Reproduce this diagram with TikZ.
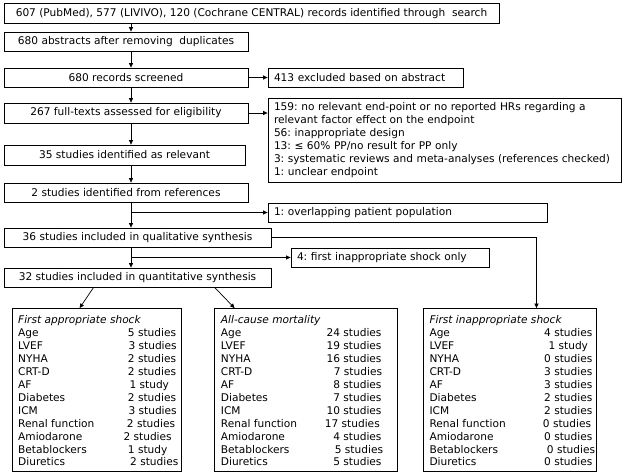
\documentclass[tikz,border=0pt]{standalone}
\usepackage{fontspec}
\setmainfont{DejaVu Sans}
\usetikzlibrary{arrows.meta}
\newcommand\myfs{\fontsize{10.6}{12.85}\selectfont\frenchspacing}
\begin{document}
\begin{tikzpicture}[x=1pt,y=-1pt,
  box/.style={draw, line width=0.8pt, inner xsep=0pt, inner ysep=0pt, font=\myfs},
  side/.style={box, align=left, inner xsep=6pt},
  arr/.style={line width=0.7pt, -{Triangle[length=4.5pt,width=4pt]}},
  txt/.style={inner sep=0pt, font=\myfs, anchor=base west},
  txte/.style={inner sep=0pt, font=\myfs, anchor=base east}]
\useasboundingbox (0,0) rectangle (625,475);
\fill[white] (0,0) rectangle (625,475);
% main column
\node[box, minimum width=495pt, minimum height=20pt] (b1) at (251.5,13.5) {607 (PubMed), 577 (LIVIVO), 120 (Cochrane CENTRAL) records identified through\ \ search};
\node[box, minimum width=244pt, minimum height=19pt] (b2) at (126,41.5) {680 abstracts after removing\ \ duplicates};
\node[box, minimum width=244pt, minimum height=19pt] (b3) at (126,77.5) {680 records screened};
\node[box, minimum width=244pt, minimum height=20pt] (b4) at (126,113) {267 full-texts assessed for eligibility};
\node[box, minimum width=241pt, minimum height=20pt] (b5) at (124.5,155) {35 studies identified as relevant};
\node[box, minimum width=244pt, minimum height=19pt] (b6) at (126,192.5) {2 studies identified from references};
\node[box, minimum width=267pt, minimum height=19pt] (b7) at (137.5,237.5) {36 studies included in qualitative synthesis};
\node[box, minimum width=267pt, minimum height=19pt] (b8) at (137.5,277.5) {32 studies included in quantitative synthesis};
% side boxes
\node[side, text width=183pt, minimum height=19pt] (e1) at (365.5,77.5) {413 excluded based on abstract};
\node[side, text width=341pt, minimum height=84pt] (e2) at (444.5,140) {159: no relevant end-point or no reported HRs regarding a\\relevant factor effect on the endpoint\\56: inappropriate design\\13: ≤ 60\% PP/no result for PP only\\3: systematic reviews and meta-analyses (references checked)\\1: unclear endpoint};
\node[side, text width=267pt, minimum height=19pt] (e3) at (407.5,212.5) {1: overlapping patient population};
\node[side, text width=186pt, minimum height=19pt] (e4) at (390,257.5) {4: first inappropriate shock only};
% table boxes
\node[box, minimum width=169pt, minimum height=162.5pt] (L) at (96.5,389.75) {};
\node[box, minimum width=183pt, minimum height=162.5pt] (M) at (305.5,389.75) {};
\node[box, minimum width=173pt, minimum height=162.5pt] (R) at (509.5,389.75) {};
\node[txt] (Lt) at (18,323.9) {\itshape First appropriate shock};
\node[txt] (Mt) at (220.7,323.9) {\itshape All-cause mortality};
\node[txt] (Rt) at (429.3,323.9) {\itshape First inappropriate shock};
\foreach \lab/\num/\nx [count=\i] in {Age/5 studies/127.7, LVEF/3 studies/128.3, NYHA/2 studies/127.7, CRT-D/2 studies/127.7, AF/1 study/129.3, Diabetes/2 studies/127.7, ICM/3 studies/128.3, Renal function/2 studies/126.7, Amiodarone/2 studies/123.3, Betablockers/1 study/127.7, Diuretics/2 studies/130}{
  \node[txt] (La\i) at (18,{336.9+12.9*(\i-1)}) {\lab};
  \node[txt] (Ln\i) at (\nx,{336.9+12.9*(\i-1)}) {\num};
}
\foreach \lab/\num/\nx [count=\i] in {Age/24 studies/381.7, LVEF/19 studies/381.7, NYHA/16 studies/381.7, CRT-D/7 studies/382.3, AF/8 studies/381.7, Diabetes/7 studies/381.7, ICM/10 studies/381.7, Renal function/17 studies/380, Amiodarone/4 studies/381.7, Betablockers/5 studies/383.3, Diuretics/5 studies/381.7}{
  \node[txt] (Ma\i) at (220.7,{336.9+12.9*(\i-1)}) {\lab};
  \node[txte] (Mn\i) at (\nx,{336.9+12.9*(\i-1)}) {\num};
}
\foreach \lab/\num/\nx [count=\i] in {Age/4 studies/544, LVEF/1 study/548.3, NYHA/0 studies/544, CRT-D/3 studies/544, AF/3 studies/544, Diabetes/2 studies/544, ICM/2 studies/544, Renal function/0 studies/542.7, Amiodarone/0 studies/544, Betablockers/0 studies/546.7, Diuretics/0 studies/544}{
  \node[txt] (Ra\i) at (429.3,{336.9+12.9*(\i-1)}) {\lab};
  \node[txt] (Rn\i) at (\nx,{336.9+12.9*(\i-1)}) {\num};
}
% connectors
\coordinate (sp) at (131,0);
\coordinate (cr) at (536.5,0);
\draw[arr] (b1.south -| sp) -- (b2.north -| sp);
\draw[arr] (b2.south -| sp) -- (b3.north -| sp);
\draw[arr] (b3.south -| sp) -- (b4.north -| sp);
\draw[arr] (b4.south -| sp) -- (b5.north -| sp);
\draw[arr] (b5.south -| sp) -- (b6.north -| sp);
\draw[arr] (b6.south -| sp) -- (b7.north -| sp);
\draw[arr] (b7.south -| sp) -- (b8.north -| sp);
\draw[arr] (b3.east) -- (e1.west);
\draw[arr] (b4.east) -- (b4.east -| e2.west);
\draw[arr] (sp |- e3.west) -- (e3.west);
\draw[arr] (sp |- e4.west) -- (e4.west);
\draw[arr] (b7.east) -| (R.north -| cr);
\draw[arr] ([xshift=90pt]b8.south west) -- ([xshift=68pt]L.north west);
\draw[arr] ([xshift=211pt]b8.south west) -- ([xshift=21pt]M.north west);
\end{tikzpicture}
\end{document}
